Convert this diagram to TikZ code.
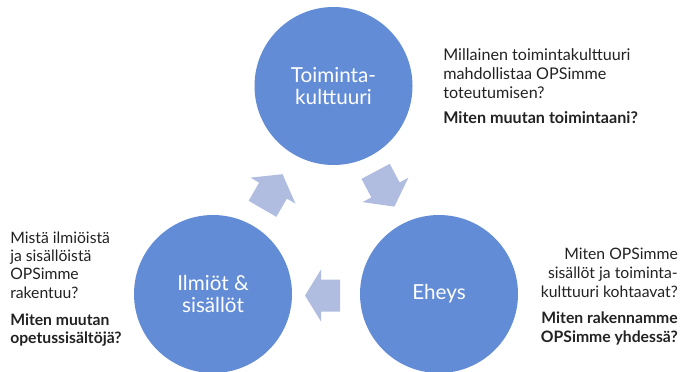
\documentclass[tikz,border=0pt]{standalone}
\usepackage{fontspec}
\setmainfont{Lato}
\definecolor{bubblefill}{HTML}{628CD6}
\definecolor{arrowfill}{HTML}{B0BDE0}
\definecolor{textdark}{HTML}{222222}
\newcommand\blockarr[5]{%
  \begin{scope}[shift={(#1,#2)},rotate=#3]
    \pgfmathsetmacro\arrHalf{#4/2}
    \pgfmathsetmacro\arrBase{#4/2-#5}
    \fill[arrowfill] (-\arrHalf,-16) -- (\arrBase,-16) -- (\arrBase,-26) -- (\arrHalf,0)
      -- (\arrBase,26) -- (\arrBase,16) -- (-\arrHalf,16) -- cycle;
  \end{scope}}
\tikzset{
  bubble/.style={circle, fill=bubblefill, draw=none, inner sep=0pt, minimum size=118.5pt,
    text=white, align=center, font=\fontsize{15.5}{16.5}\selectfont},
  qtop/.style={inner sep=0pt, text=textdark, font=\fontsize{12.1}{15}\selectfont},
  qtopb/.style={qtop, font=\fontsize{12.1}{15}\selectfont\bfseries},
  qside/.style={inner sep=0pt, text=textdark, font=\fontsize{11.8}{14}\selectfont},
  qsideb/.style={qside, font=\fontsize{11.8}{14}\selectfont\bfseries},
}
\begin{document}
\begin{tikzpicture}[x=0.75pt,y=-0.75pt]
\useasboundingbox (0,0) rectangle (680,371);
% circles
\node[bubble] (top) at (333.5,86) {Toiminta-\\kulttuuri};
\node[bubble] (left) at (213,294) {Ilmiöt \&\\sisällöt};
\node[bubble] (right) at (439,294) {Eheys};
% block arrows
\blockarr{272.5}{191.5}{60}{40}{19}
\blockarr{385}{189}{-62}{40}{19}
\blockarr{322.5}{295.5}{180}{35}{16}
% top right text
\node[qtop, anchor=base west] (ta) at (443,60) {Millainen toimintakulttuuri};
\node[qtop, anchor=base west] (tb) at (443,79.3) {mahdollistaa OPSimme};
\node[qtop, anchor=base west] (tc) at (443,98.6) {toteutumisen?};
\node[qtopb, anchor=base west] (td) at (443,123) {Miten muutan toimintaani?};
% left text
\node[qside, anchor=base west] (la) at (10,243) {Mistä ilmiöistä};
\node[qside, anchor=base west] (lb) at (10,261.3) {ja sisällöistä};
\node[qside, anchor=base west] (lc) at (10,279.6) {OPSimme};
\node[qside, anchor=base west] (ld) at (10,298) {rakentuu?};
\node[qsideb, anchor=base west] (le) at (10,325) {Miten muutan};
\node[qsideb, anchor=base west] (lf) at (10,343) {opetussisältöjä?};
% right text
\node[qside, anchor=base east] (ra) at (678,259) {Miten OPSimme};
\node[qside, anchor=base east] (rb) at (678,278) {sisällöt ja toiminta-};
\node[qside, anchor=base east] (rc) at (678,297) {kulttuuri kohtaavat?};
\node[qsideb, anchor=base east] (rd) at (678,323) {Miten rakennamme};
\node[qsideb, anchor=base east] (re) at (678,342) {OPSimme yhdessä?};
\end{tikzpicture}
\end{document}
